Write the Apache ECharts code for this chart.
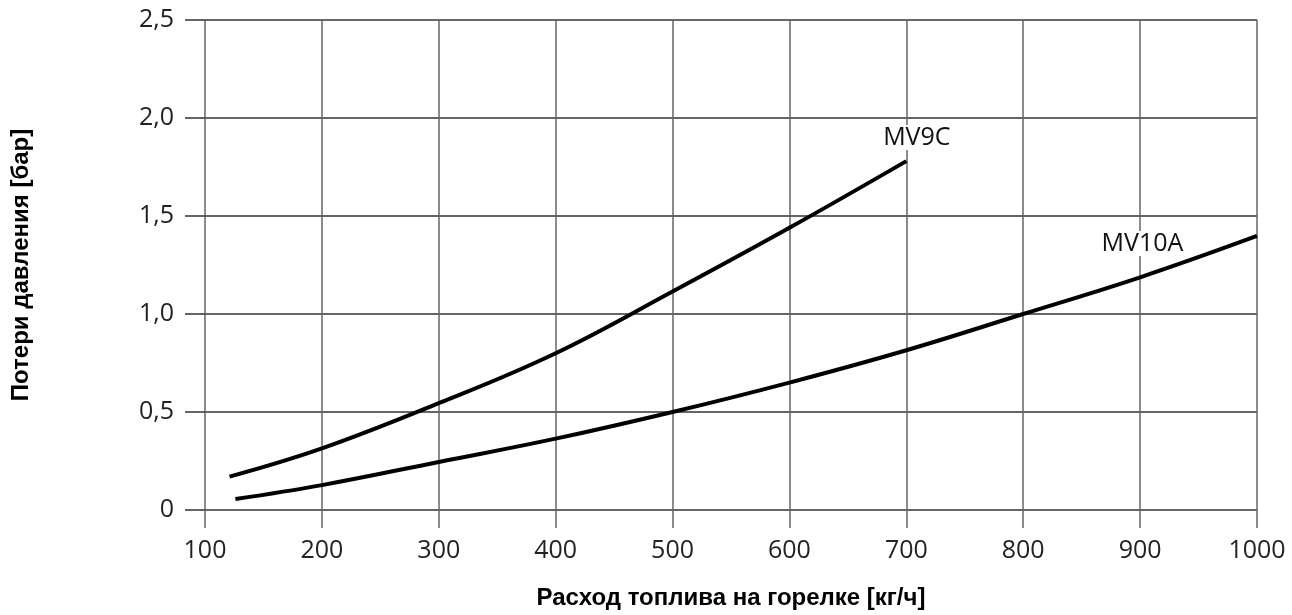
<!DOCTYPE html>
<html><head><meta charset="utf-8">
<script src="https://cdn.jsdelivr.net/npm/echarts@6/dist/echarts.min.js"></script>
<style>html,body{margin:0;padding:0;background:#fff}#c{width:1292px;height:615px}</style>
</head><body><div id="c"></div>
<script>
const xTicks = [100,200,300,400,500,600,700,800,900,1000];
const yTicks = [0,0.5,1.0,1.5,2.0,2.5];
const mv9cX = [121,200,300,400,500,600,700];
const mv9cY = [0.17,0.314,0.545,0.80,1.115,1.44,1.78];
const mv10aX = [126,200,300,400,500,600,700,800,900,1000];
const mv10aY = [0.056,0.127,0.245,0.364,0.50,0.65,0.815,1.0,1.187,1.398];
const seriesNames = ['MV9C','MV10A'];
const labelPos = [[709,1.90],[902,1.36]];
const xTitle = 'Расход топлива на горелке [кг/ч]';
const yTitle = 'Потери давления [бар]';

const chart = echarts.init(document.getElementById('c'));
const fmtY = v => v === 0 ? '0' : v.toFixed(1).replace('.', ',');
function mk(name, xs, ys, lp){
  return {
    name, type:'line', smooth:0.4, symbol:'none',
    lineStyle:{color:'#000', width:4},
    data: xs.map((x,i)=>[x, ys[i]]),
    z:5,
    markPoint:{
      symbol:'circle', symbolSize:0, silent:true,
      data:[{coord:lp, value:name}],
      label:{show:true, formatter:name, color:'#111', fontFamily:'Open Sans', fontSize:25,
             backgroundColor:'#fff', padding:[0,1]}
    }
  };
}
chart.setOption({
  animation:false,
  grid:{left:205, right:35, top:20, bottom:103},
  xAxis:{type:'value', min:100, max:1000, interval:100,
    axisLine:{show:false},
    axisTick:{show:true, length:18, lineStyle:{color:'#666', width:1.5}},
    splitLine:{show:true, lineStyle:{color:'#666', width:1.5}},
    axisLabel:{margin:28, fontSize:25, color:'#222', fontFamily:'Open Sans',
      formatter:v=>xTicks.includes(v)?String(v):''},
    name:xTitle, nameLocation:'middle', nameGap:76,
    nameTextStyle:{fontFamily:'Liberation Sans', fontWeight:'bold', fontSize:24, color:'#000'}
  },
  yAxis:{type:'value', min:0, max:2.5, interval:0.5,
    axisLine:{show:false},
    axisTick:{show:true, length:20, lineStyle:{color:'#333', width:1.5}},
    splitLine:{show:true, lineStyle:{color:'#333', width:1.5}},
    axisLabel:{margin:31, fontSize:25, color:'#222', fontFamily:'Open Sans',
      formatter:v=>yTicks.includes(v)?fmtY(v):''},
    name:yTitle, nameLocation:'middle', nameGap:172, nameRotate:90,
    nameTextStyle:{fontFamily:'Liberation Sans', fontWeight:'bold', fontSize:24, color:'#000'}
  },
  series:[mk(seriesNames[0], mv9cX, mv9cY, labelPos[0]), mk(seriesNames[1], mv10aX, mv10aY, labelPos[1])]
});
</script></body></html>
